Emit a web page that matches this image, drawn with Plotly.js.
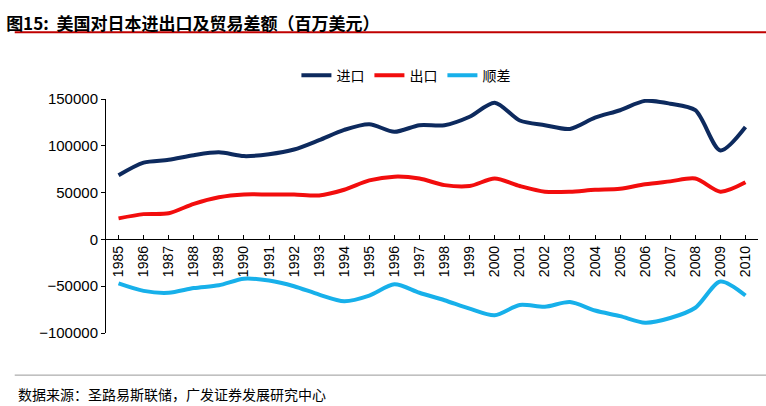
<!DOCTYPE html>
<html>
<head>
<meta charset="utf-8">
<script src="https://cdn.plot.ly/plotly-3.0.1.min.js"></script>
<style>body{margin:0;background:#fff}</style>
</head>
<body>
<div id="plot" style="width:766px;height:406px"></div>
<script>
'use strict'
/* global Plotly */

const years = ['1985', '1986', '1987', '1988', '1989', '1990', '1991', '1992', '1993', '1994', '1995', '1996', '1997',
  '1998', '1999', '2000', '2001', '2002', '2003', '2004', '2005', '2006', '2007', '2008', '2009', '2010']
const imports = [68500, 82000, 85000, 90000, 93000, 89000, 91000, 96000, 106000, 117000, 123000, 115000, 122000,
  122000, 131000, 146000, 127000, 122000, 118000, 130000, 138000, 148000, 145000, 138000, 95000, 120000]
const exports = [22500, 27000, 28000, 38000, 45000, 48000, 48000, 48000, 47000, 53000, 63000, 67000, 65000,
  58000, 57000, 65000, 57000, 51000, 51000, 53000, 54000, 59000, 62000, 65000, 51000, 61000]
const balance = [-47000, -55000, -57000, -52000, -49000, -42000, -44000, -50000, -59000, -66000, -60000, -48000, -57000,
  -65000, -74000, -81000, -70000, -72000, -67000, -76000, -82000, -89000, -84000, -73000, -45000, -60000]
const names = ['进口', '出口', '顺差']
const colors = ['#0d2a5e', '#f20d0d', '#17b0ea']

const font = 'Liberation Sans, Noto Sans CJK SC, sans-serif'
const series = [imports, exports, balance]
const data = series.map((ys, i) => ({
  x: years, y: ys, name: names[i], mode: 'lines',
  line: {color: colors[i], width: 4, shape: 'spline', smoothing: 0.8}
}))

const layout = {
  width: 766, height: 406,
  margin: {l: 106, r: 8, t: 99, b: 73},
  paper_bgcolor: '#fff', plot_bgcolor: '#fff',
  font: {family: font, size: 14, color: '#000'},
  showlegend: true,
  legend: {orientation: 'h', x: 0.46, xanchor: 'center', y: 1.1, yanchor: 'middle',
    font: {family: 'Noto Sans CJK SC', size: 14}, traceorder: 'normal'},
  xaxis: {type: 'category', range: [-0.5, 25.5], anchor: 'free', position: 0.4,
    showline: true, linecolor: '#000', linewidth: 1, ticks: 'inside', ticklen: 4, tickcolor: '#000',
    tickangle: -90, showgrid: false, tickfont: {size: 14, family: font}},
  yaxis: {range: [-100000, 150000], dtick: 50000, showline: true, linecolor: '#000',
    ticks: 'outside', ticklen: 4, tickcolor: '#000', showgrid: false, zeroline: false,
    tickformat: 'd', tickfont: {size: 15, family: font}},
  title: {text: '<b>图15:  美国对日本进出口及贸易差额（百万美元）</b>', x: 0.008, xanchor: 'left',
    y: 0.955, font: {family: 'Noto Sans CJK SC', size: 17, color: '#000'}},
  shapes: [
    {type: 'line', xref: 'paper', yref: 'paper', x0: -0.14, x1: 1.02, y0: 1.285, y1: 1.285,
      line: {color: '#c00000', width: 2}},
    {type: 'line', xref: 'paper', yref: 'paper', x0: -0.14, x1: 1.02, y0: -0.18, y1: -0.18,
      line: {color: '#999', width: 1}}
  ],
  annotations: [
    {text: '数据来源：圣路易斯联储，广发证券发展研究中心', xref: 'paper', yref: 'paper',
      x: -0.138, y: -0.26, xanchor: 'left', yanchor: 'middle', showarrow: false,
      font: {family: 'Noto Sans CJK SC', size: 14, color: '#000'}}
  ]
}

Plotly.newPlot('plot', data, layout, {displayModeBar: false, staticPlot: true})
</script>
</body>
</html>
